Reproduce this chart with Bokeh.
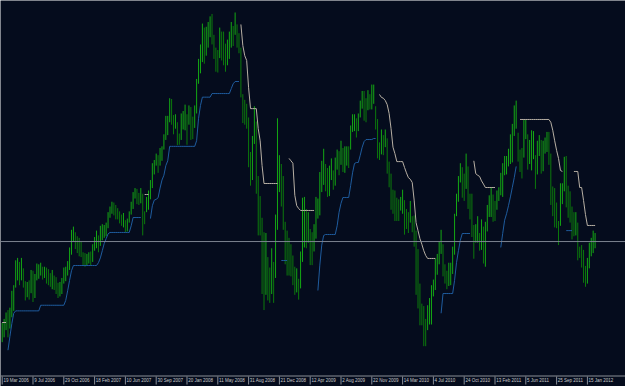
import math
from bokeh.plotting import figure
from bokeh.models import Range1d, Span, ColumnDataSource
from bokeh.embed import file_html
from bokeh.resources import INLINE
from bokeh.core.properties import value

# Weekly bars, first bar = week of 19 Mar 2006
high = [
1.2170, 1.2220, 1.2300, 1.2330, 1.2360, 1.2570, 1.2640, 1.2950, 1.2980, 1.2930,
1.2980, 1.2850, 1.2690, 1.2680, 1.2700, 1.2830, 1.2820, 1.2780, 1.2910, 1.2900,
1.2920, 1.2870, 1.2870, 1.2860, 1.2840, 1.2790, 1.2830, 1.2760, 1.2740, 1.2670,
1.2680, 1.2730, 1.2860, 1.2870, 1.2940, 1.3110, 1.3330, 1.3370, 1.3300, 1.3250,
1.3230, 1.3190, 1.3050, 1.3040, 1.3030, 1.3050, 1.3060, 1.3150, 1.3240, 1.3320,
1.3260, 1.3380, 1.3400, 1.3390, 1.3420, 1.3550, 1.3620, 1.3680, 1.3670, 1.3640,
1.3600, 1.3560, 1.3520, 1.3540, 1.3450, 1.3470, 1.3560, 1.3680, 1.3800, 1.3850,
1.3840, 1.3790, 1.3850, 1.3780, 1.3560, 1.3740, 1.3820, 1.3950, 1.4160, 1.4200,
1.4280, 1.4260, 1.4350, 1.4370, 1.4520, 1.4750, 1.4750, 1.4970, 1.4960, 1.4760,
1.4770, 1.4670, 1.4530, 1.4780, 1.4810, 1.4890, 1.4770, 1.4880, 1.4860, 1.4740,
1.4880, 1.5210, 1.5460, 1.5640, 1.5900, 1.5850, 1.5860, 1.5920, 1.5990, 1.6020,
1.5760, 1.5600, 1.5570, 1.5850, 1.5800, 1.5800, 1.5650, 1.5700, 1.5800, 1.5920,
1.5870, 1.6038, 1.5890, 1.5780, 1.5600, 1.5020, 1.4950, 1.4900, 1.4730, 1.4300,
1.4500, 1.4870, 1.4680, 1.4000, 1.3750, 1.3480, 1.3300, 1.3290, 1.2990, 1.2860,
1.3100, 1.2930, 1.3520, 1.4720, 1.4260, 1.4150, 1.4000, 1.3430, 1.3320, 1.3230,
1.3150, 1.3010, 1.2870, 1.2850, 1.2720, 1.3060, 1.3730, 1.3740, 1.3590, 1.3550,
1.3340, 1.3300, 1.3400, 1.3740, 1.3720, 1.4050, 1.4190, 1.4340, 1.4150, 1.4100,
1.4130, 1.4220, 1.4070, 1.4230, 1.4330, 1.4310, 1.4440, 1.4350, 1.4370, 1.4370,
1.4370, 1.4630, 1.4770, 1.4770, 1.4720, 1.4780, 1.4940, 1.5060, 1.5060, 1.4970,
1.5070, 1.5020, 1.5140, 1.5140, 1.4870, 1.4710, 1.4420, 1.4580, 1.4510, 1.4580,
1.4470, 1.4180, 1.4030, 1.3830, 1.3820, 1.3730, 1.3710, 1.3740, 1.3830, 1.3700,
1.3590, 1.3550, 1.3690, 1.3500, 1.3510, 1.3320, 1.3090, 1.2660, 1.2410, 1.2380,
1.2220, 1.2390, 1.2480, 1.2640, 1.2710, 1.2970, 1.3030, 1.3180, 1.3330, 1.3150,
1.2900, 1.2820, 1.2920, 1.2920, 1.3120, 1.3530, 1.3780, 1.4000, 1.4160, 1.4110,
1.4030, 1.4280, 1.4120, 1.3780, 1.3780, 1.3390, 1.3400, 1.3500, 1.3290, 1.3460,
1.3370, 1.3430, 1.3640, 1.3760, 1.3860, 1.3770, 1.3690, 1.3820, 1.3860, 1.4040,
1.4160, 1.4250, 1.4250, 1.4340, 1.4520, 1.4650, 1.4880, 1.4940, 1.4540, 1.4330,
1.4350, 1.4700, 1.4700, 1.4520, 1.4450, 1.4570, 1.4560, 1.4260, 1.4440, 1.4510,
1.4450, 1.4440, 1.4480, 1.4550, 1.4550, 1.4280, 1.3870, 1.3850, 1.3670, 1.3440,
1.3910, 1.3910, 1.4240, 1.4250, 1.3880, 1.3810, 1.3620, 1.3550, 1.3550, 1.3420,
1.3120, 1.3140, 1.3080, 1.2880, 1.2980, 1.3170, 1.3230, 1.3320, 1.3290,
]

low = [
1.1930, 1.1990, 1.2080, 1.1990, 1.2100, 1.2240, 1.2320, 1.2610, 1.2700, 1.2640,
1.2700, 1.2610, 1.2450, 1.2490, 1.2460, 1.2540, 1.2430, 1.2480, 1.2700, 1.2720,
1.2760, 1.2710, 1.2730, 1.2660, 1.2640, 1.2620, 1.2590, 1.2580, 1.2530, 1.2480,
1.2500, 1.2530, 1.2660, 1.2690, 1.2760, 1.2830, 1.3020, 1.3180, 1.3090, 1.3040,
1.3000, 1.2990, 1.2880, 1.2870, 1.2890, 1.2910, 1.2880, 1.2930, 1.3070, 1.3100,
1.3050, 1.3130, 1.3200, 1.3230, 1.3250, 1.3350, 1.3480, 1.3530, 1.3510, 1.3460,
1.3460, 1.3410, 1.3380, 1.3360, 1.3300, 1.3310, 1.3420, 1.3520, 1.3590, 1.3720,
1.3650, 1.3640, 1.3660, 1.3260, 1.3400, 1.3550, 1.3580, 1.3710, 1.3850, 1.4020,
1.4130, 1.4040, 1.4130, 1.4190, 1.4330, 1.4450, 1.4510, 1.4670, 1.4640, 1.4520,
1.4590, 1.4385, 1.4390, 1.4450, 1.4580, 1.4570, 1.4390, 1.4640, 1.4450, 1.4460,
1.4600, 1.4780, 1.5150, 1.5280, 1.5420, 1.5400, 1.5500, 1.5600, 1.5730, 1.5640,
1.5460, 1.5300, 1.5290, 1.5470, 1.5440, 1.5380, 1.5300, 1.5380, 1.5460, 1.5600,
1.5620, 1.5760, 1.5600, 1.5530, 1.4980, 1.4660, 1.4640, 1.4590, 1.4110, 1.3880,
1.3950, 1.4400, 1.3780, 1.3260, 1.3260, 1.2530, 1.2330, 1.2520, 1.2450, 1.2420,
1.2530, 1.2420, 1.2730, 1.3330, 1.3800, 1.3620, 1.3330, 1.2900, 1.2760, 1.2760,
1.2750, 1.2640, 1.2520, 1.2550, 1.2460, 1.2600, 1.2930, 1.3110, 1.3100, 1.3170,
1.2890, 1.2890, 1.3060, 1.3220, 1.3470, 1.3510, 1.3800, 1.3890, 1.3810, 1.3740,
1.3750, 1.3950, 1.3830, 1.3880, 1.4080, 1.4010, 1.4140, 1.4050, 1.4040, 1.4130,
1.4100, 1.4330, 1.4550, 1.4560, 1.4480, 1.4560, 1.4730, 1.4840, 1.4690, 1.4670,
1.4820, 1.4830, 1.4830, 1.4900, 1.4580, 1.4220, 1.4200, 1.4270, 1.4260, 1.4360,
1.4030, 1.3860, 1.3580, 1.3530, 1.3440, 1.3440, 1.3440, 1.3570, 1.3530, 1.3270,
1.3340, 1.3290, 1.3420, 1.3300, 1.3120, 1.2520, 1.2350, 1.2140, 1.2140, 1.1880,
1.1880, 1.2080, 1.2150, 1.2150, 1.2500, 1.2580, 1.2770, 1.2900, 1.3030, 1.2750,
1.2660, 1.2590, 1.2630, 1.2640, 1.2780, 1.3020, 1.3500, 1.3680, 1.3920, 1.3730,
1.3690, 1.3840, 1.3590, 1.3460, 1.3240, 1.2970, 1.3170, 1.3170, 1.3070, 1.3080,
1.2910, 1.2870, 1.3310, 1.3490, 1.3490, 1.3430, 1.3440, 1.3580, 1.3690, 1.3760,
1.3740, 1.4010, 1.4020, 1.4120, 1.4150, 1.4170, 1.4500, 1.4590, 1.4180, 1.4050,
1.3970, 1.4230, 1.4460, 1.4080, 1.4150, 1.4070, 1.4210, 1.3840, 1.4020, 1.4250,
1.4030, 1.4060, 1.4280, 1.4300, 1.4140, 1.3640, 1.3500, 1.3360, 1.3350, 1.3140,
1.3380, 1.3650, 1.3810, 1.3610, 1.3480, 1.3420, 1.3210, 1.3250, 1.3260, 1.2950,
1.2980, 1.2860, 1.2670, 1.2620, 1.2660, 1.2850, 1.3000, 1.3040, 1.3100,
]

# trailing stop below price (uptrend), None = no value
lower_stop = ([None] * 3 + [1.183, 1.200, 1.216, 1.229] + [1.232] * 13 + [1.239] * 13
              + [1.245, 1.257, 1.270, 1.282] + [1.2885] * 13
              + [1.292, 1.298, 1.307, 1.316, 1.322, 1.328] + [1.3297] * 11 + [1.338]
              + [1.3483] * 5 + [None] * 4
              + [1.347, 1.363, 1.370, 1.371, 1.373, 1.385, 1.395, 1.401, 1.413, 1.419]
              + [1.437] * 14 + [1.444, 1.472, 1.488] + [1.4983] * 5 + [1.5028] * 10
              + [1.509, 1.515] + [1.5178] * 3 + [None] * 21 + [1.2948] * 4 + [None] * 15
              + [1.2574, 1.289, 1.314, 1.326] + [1.3272] * 6 + [1.338, 1.355, 1.366]
              + [1.3733] * 4 + [1.388, 1.404, 1.4156] + [1.4169] * 2 + [1.426, 1.436, 1.443]
              + [1.4455] * 4 + [1.4468] * 2 + [None] * 33 + [1.229] + [1.2536] * 6
              + [1.270, 1.292, 1.307, 1.320] + [1.3284] * 5 + [None] * 15
              + [1.311, 1.3284, 1.345, 1.353, 1.363, 1.374, 1.386, 1.398, 1.412]
              + [None] * 25 + [1.332] * 4 + [None] * 12)

# trailing stop above price (downtrend)
upper_stop = ([1.2175] * 3 + [None] * 71 + [1.377] * 3 + [None] * 47
              + [1.5889, 1.5627, 1.550, 1.544, 1.510] + [1.484] * 4 + [1.459, 1.444, 1.413]
              + [1.3907] * 8 + [None] * 5 + [1.422, 1.419, 1.416, 1.376, 1.363, 1.3596]
              + [1.3571] * 8 + [None] * 33
              + [1.5016, 1.498, 1.497, 1.4941, 1.489, 1.478, 1.459, 1.436, 1.428]
              + [1.418] * 4
              + [1.4107, 1.404, 1.398, 1.396, 1.392, 1.370, 1.342, 1.332, 1.322, 1.315, 1.307, 1.301]
              + [1.2973] * 5 + [None] * 19 + [1.419, 1.403, 1.401, 1.3995, 1.394, 1.390]
              + [1.3857] * 6 + [None] * 12 + [1.4705] * 16
              + [1.467, 1.457, 1.444, 1.432, 1.422, 1.407, 1.4057] + [None] * 5
              + [1.4057] * 3 + [1.3857] * 2 + [1.3695, 1.352] + [1.3384] * 5)

bid = 1.3184

tick_bars = [0, 16, 32, 48, 64, 80, 96, 112, 128, 144, 160, 176, 192, 208, 224, 240, 256, 272, 288, 304]
tick_labels = ["19 Mar 2006", "9 Jul 2006", "29 Oct 2006", "18 Feb 2007", "10 Jun 2007",
               "30 Sep 2007", "20 Jan 2008", "11 May 2008", "31 Aug 2008", "21 Dec 2008",
               "12 Apr 2009", "2 Aug 2009", "22 Nov 2009", "14 Mar 2010", "4 Jul 2010",
               "24 Oct 2010", "13 Feb 2011", "5 Jun 2011", "25 Sep 2011", "15 Jan 2012"]

BG = "#050c1d"
UP = "#14a814"
DOWN = "#0c7a0c"
BLUE = "#1f5c9e"
STOP_UP = "#b8b0a4"
AXIS = "#8a8e96"
LABEL = "#c8c8c8"

n = len(high)
idx = list(range(n))
mid = [(h + l) / 2 for h, l in zip(high, low)]
colors = [UP if k == 0 or mid[k] >= mid[k - 1] else DOWN for k in range(n)]
nan = float("nan")
lo_line = [nan if v is None else v for v in lower_stop]
up_line = [nan if v is None else v for v in upper_stop]

src = ColumnDataSource(dict(i=idx, high=high, low=low, color=colors))

p = figure(width=625, height=386,
           x_range=Range1d(-0.883, 323.792), y_range=Range1d(1.13776, 1.61875),
           output_backend="svg", toolbar_location=None,
           x_axis_location=None, y_axis_location=None, min_border=0,
           background_fill_color=BG, border_fill_color=BG, outline_line_color=None)
p.grid.visible = False
p.extra_y_ranges = {"px": Range1d(386, 0)}

p.add_layout(Span(location=bid, dimension="width", line_color="#7b838f", line_width=1))

p.segment(x0="i", y0="low", x1="i", y1="high", source=src, line_color="color", line_width=1)
p.line(idx, lo_line, line_color=BLUE, line_width=1)
p.line(idx, up_line, line_color=STOP_UP, line_width=1)

# time scale strip
p.add_layout(Span(location=375.5, dimension="width", y_range_name="px", line_color=AXIS, line_width=1))
p.segment(x0=tick_bars, y0=[376] * len(tick_bars), x1=tick_bars, y1=[384] * len(tick_bars),
          y_range_name="px", line_color=AXIS, line_width=1)
p.text(x=tick_bars, y=[377.4] * len(tick_bars), text=tick_labels, y_range_name="px",
       text_font=value("Liberation Sans"), text_font_size="4.5px", text_color=LABEL,
       text_baseline="top", text_align="left", x_offset=1.2)

open("out.html", "w").write(file_html(p, INLINE))
